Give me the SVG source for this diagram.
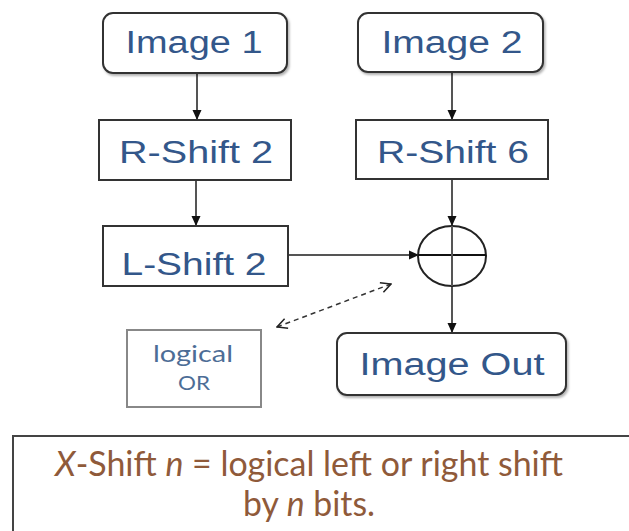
<svg xmlns="http://www.w3.org/2000/svg" width="629" height="531" viewBox="0 0 629 531">
<defs>
<marker id="ah" viewBox="0 0 10 10" refX="10" refY="5" markerWidth="10" markerHeight="10" orient="auto" markerUnits="userSpaceOnUse">
<path d="M0,0.5 L10,5 L0,9.5 z" fill="#111"/>
</marker>
<marker id="ah2" viewBox="0 0 12 12" refX="11" refY="6" markerWidth="12" markerHeight="12" orient="auto-start-reverse" markerUnits="userSpaceOnUse">
<path d="M1,1 L11,6 L1,11" fill="none" stroke="#222" stroke-width="1.5"/>
</marker>
<filter id="sh" x="-10%" y="-10%" width="130%" height="140%">
<feDropShadow dx="1.5" dy="2" stdDeviation="1.2" flood-color="#000" flood-opacity="0.3"/>
</filter>
</defs>
<style>
.box{fill:#fff;stroke:#333;stroke-width:2}
.rbox{fill:#fff;stroke:#333;stroke-width:2;filter:url(#sh)}
.lbl{font-family:"Liberation Sans",Arial,sans-serif;font-size:31px;fill:#33578a;text-anchor:middle}
.small{font-family:Lato,"Open Sans",sans-serif;fill:#4d6d96;text-anchor:middle}
.conn{stroke:#555;stroke-width:2;fill:none}
.note{font-family:Lato,"Open Sans",sans-serif;font-size:34px;fill:#8f5a3a;text-anchor:middle}
</style>
<rect width="629" height="531" fill="#fff"/>

<g id="connectors">
<line class="conn" x1="197" y1="73" x2="197" y2="120" marker-end="url(#ah)"/>
<line class="conn" x1="196" y1="180" x2="196" y2="226" marker-end="url(#ah)"/>
<line class="conn" x1="452" y1="72" x2="452" y2="120" marker-end="url(#ah)"/>
<line class="conn" x1="452" y1="179" x2="452" y2="226" marker-end="url(#ah)"/>
<line class="conn" x1="452" y1="286" x2="452" y2="333" marker-end="url(#ah)"/>
<line class="conn" x1="288" y1="255" x2="419" y2="255" stroke="#111" marker-end="url(#ah)"/>
<line x1="277" y1="327" x2="391" y2="284" stroke="#333" stroke-width="1.5" stroke-dasharray="5,4" marker-start="url(#ah2)" marker-end="url(#ah2)"/>
</g>

<g id="image1">
<rect class="rbox" x="103" y="13" width="184" height="60" rx="10"/>
<text class="lbl" x="194" y="53" textLength="137" lengthAdjust="spacingAndGlyphs">Image 1</text>
</g>
<g id="image2">
<rect class="rbox" x="358" y="13" width="185" height="59" rx="10"/>
<text class="lbl" x="452" y="53" textLength="141" lengthAdjust="spacingAndGlyphs">Image 2</text>
</g>
<g id="rshift2">
<rect class="box" x="99" y="120" width="192" height="60"/>
<text class="lbl" x="196" y="163" textLength="154" lengthAdjust="spacingAndGlyphs">R-Shift 2</text>
</g>
<g id="rshift6">
<rect class="box" x="356" y="120" width="192" height="59"/>
<text class="lbl" x="453" y="163" textLength="152" lengthAdjust="spacingAndGlyphs">R-Shift 6</text>
</g>
<g id="lshift2">
<rect class="box" x="103" y="226" width="185" height="60"/>
<text class="lbl" x="194" y="275" textLength="145" lengthAdjust="spacingAndGlyphs">L-Shift 2</text>
</g>
<g id="xor">
<ellipse cx="452" cy="256" rx="34" ry="30" fill="none" stroke="#222" stroke-width="2"/>
<line x1="418" y1="255" x2="486" y2="255" stroke="#111" stroke-width="2"/>
<line x1="452" y1="226" x2="452" y2="286" stroke="#555" stroke-width="2"/>
</g>
<g id="imageout">
<rect class="rbox" x="337" y="333" width="229" height="62" rx="10"/>
<text class="lbl" x="452" y="375" textLength="185" lengthAdjust="spacingAndGlyphs">Image Out</text>
</g>
<g id="logicalor">
<rect x="127" y="330" width="134" height="77" fill="#fff" stroke="#888" stroke-width="2"/>
<text class="small" x="193" y="362" font-size="24" textLength="80" lengthAdjust="spacingAndGlyphs">logical</text>
<text class="small" x="194" y="390" font-size="19" textLength="32" lengthAdjust="spacingAndGlyphs">OR</text>
</g>
<g id="legend">
<rect x="13" y="436" width="630" height="110" fill="#fff" stroke="#444" stroke-width="2"/>
<text class="note" x="309" y="476" textLength="508" lengthAdjust="spacingAndGlyphs"><tspan font-style="italic">X</tspan>-Shift <tspan font-style="italic">n</tspan> = logical left or right shift</text>
<text class="note" x="309" y="516" textLength="132" lengthAdjust="spacingAndGlyphs">by <tspan font-style="italic">n</tspan> bits.</text>
</g>
</svg>
